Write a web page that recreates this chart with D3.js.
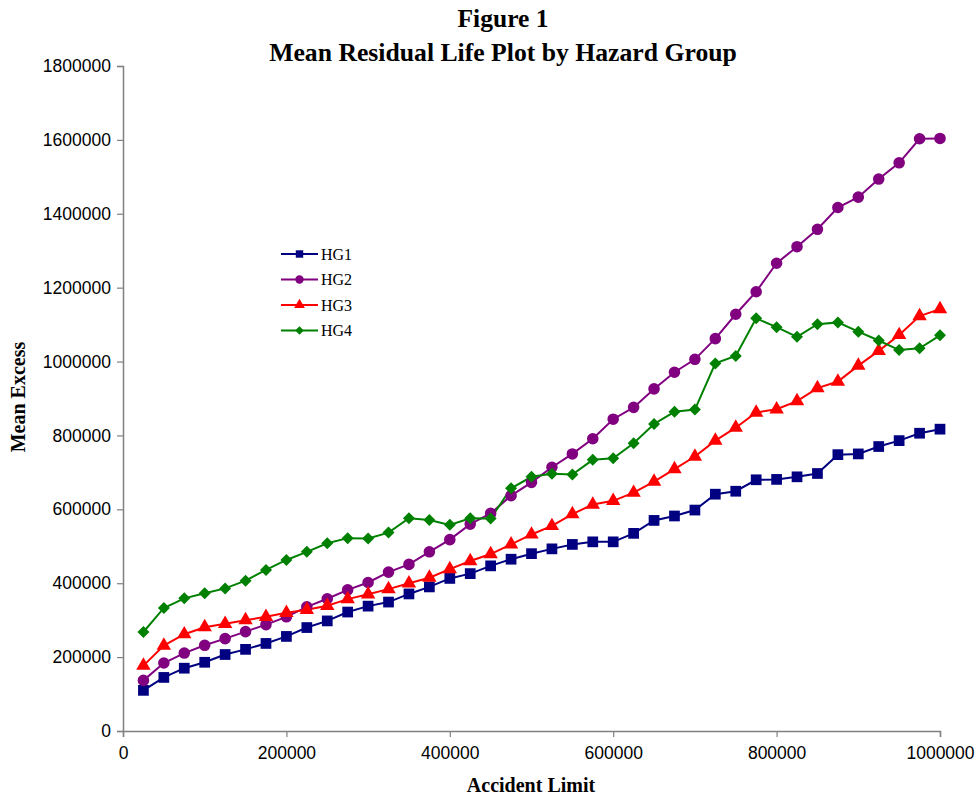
<!DOCTYPE html>
<html>
<head>
<meta charset="utf-8">
<script src="https://cdn.jsdelivr.net/npm/d3@7"></script>
<style>
  html, body { margin: 0; padding: 0; background: #fff; }
  svg { display: block; }
</style>
</head>
<body>
<svg id="chart" width="976" height="797"></svg>
<script>
// Accident limits (x values)
const limits = [25000, 50000, 75000, 100000, 125000, 150000, 175000, 200000, 225000, 250000,
  275000, 300000, 325000, 350000, 375000, 400000, 425000, 450000, 475000, 500000,
  525000, 550000, 575000, 600000, 625000, 650000, 675000, 700000, 725000, 750000,
  775000, 800000, 825000, 850000, 875000, 900000, 925000, 950000, 975000, 1000000];

// Mean excess by hazard group
const hg1 = [110000, 145000, 170000, 186000, 207000, 221000, 237000, 256000, 280000, 298000,
  322000, 338000, 349000, 371000, 390000, 413000, 426000, 447000, 465000, 480000,
  493000, 505000, 512000, 512000, 535000, 570000, 582000, 598000, 641000, 649000,
  680000, 681000, 688000, 697000, 748000, 750000, 770000, 786000, 806000, 817000];
const hg2 = [137000, 184000, 211000, 232000, 250000, 269000, 288000, 309000, 336000, 358000,
  382000, 402000, 430000, 451000, 485000, 518000, 560000, 589000, 637000, 673000,
  714000, 750000, 791000, 844000, 876000, 926000, 971000, 1006000, 1062000, 1128000,
  1189000, 1266000, 1311000, 1358000, 1417000, 1445000, 1494000, 1538000, 1603000, 1604000];
const hg3 = [177000, 231000, 262000, 281000, 290000, 300000, 309000, 320000, 328000, 339000,
  357000, 370000, 384000, 400000, 415000, 438000, 460000, 479000, 505000, 532000,
  555000, 587000, 613000, 623000, 645000, 675000, 709000, 743000, 786000, 821000,
  862000, 871000, 893000, 928000, 946000, 989000, 1029000, 1072000, 1123000, 1142000];
const hg4 = [268000, 333000, 359000, 373000, 386000, 407000, 436000, 463000, 485000, 508000,
  522000, 521000, 537000, 576000, 571000, 558000, 576000, 575000, 657000, 688000,
  696000, 694000, 734000, 738000, 779000, 831000, 864000, 870000, 995000, 1015000,
  1117000, 1093000, 1067000, 1101000, 1106000, 1081000, 1057000, 1031000, 1036000, 1071000];

const seriesNames = ["HG1", "HG2", "HG3", "HG4"];
const seriesValues = [hg1, hg2, hg3, hg4];

// Axis ticks
const xTicks = [0, 200000, 400000, 600000, 800000, 1000000];
const yTicks = [0, 200000, 400000, 600000, 800000, 1000000, 1200000, 1400000, 1600000, 1800000];

// Styling per series: square, circle, triangle, and a square turned 45° for the diamond
const colors = ["#000080", "#800080", "#ff0000", "#008000"];
const symbols = [d3.symbolSquare, d3.symbolCircle, d3.symbolTriangle, d3.symbolSquare];
const rotations = [0, 0, 0, 45];
const symbolSizes = [115, 105, 90, 72];
const legendSizes = [55, 55, 50, 36];

const svg = d3.select("#chart");
const plot = { left: 123, right: 940, top: 66, bottom: 731 };

const x = d3.scaleLinear().domain([0, 1000000]).range([plot.left, plot.right]);
const y = d3.scaleLinear().domain([0, 1800000]).range([plot.bottom, plot.top]);

const axisColor = "#808080";
const tickFont = "'Liberation Sans', Arial, sans-serif";
const serif = "'Liberation Serif', 'Times New Roman', serif";

// Y axis
const yAxis = svg.append("g")
  .attr("transform", `translate(${plot.left},0)`)
  .call(d3.axisLeft(y).tickValues(yTicks).tickFormat(d3.format("d")).tickSize(6).tickPadding(6));
// X axis
const xAxis = svg.append("g")
  .attr("transform", `translate(0,${plot.bottom})`)
  .call(d3.axisBottom(x).tickValues(xTicks).tickFormat(d3.format("d")).tickSize(6).tickPadding(10));

[yAxis, xAxis].forEach(g => {
  g.select(".domain").attr("stroke", axisColor).attr("stroke-width", 1.5);
  g.selectAll(".tick line").attr("stroke", axisColor).attr("stroke-width", 1.2);
  g.selectAll(".tick text")
    .attr("fill", "#000")
    .style("font-family", tickFont)
    .style("font-size", "17.5px");
});

// Lines and markers
const line = d3.line().x((d, i) => x(limits[i])).y(d => y(d));

seriesValues.forEach((vals, s) => {
  svg.append("path")
    .datum(vals)
    .attr("fill", "none")
    .attr("stroke", colors[s])
    .attr("stroke-width", 2)
    .attr("d", line);
});

seriesValues.forEach((vals, s) => {
  const sym = d3.symbol().type(symbols[s]).size(symbolSizes[s]);
  svg.append("g").selectAll("path")
    .data(vals)
    .join("path")
    .attr("transform", (d, i) => `translate(${x(limits[i])},${y(d)}) rotate(${rotations[s]})`)
    .attr("d", sym)
    .attr("fill", colors[s]);
});

// Legend
const legend = svg.append("g");
seriesNames.forEach((name, s) => {
  const ly = 254 + s * 25.5;
  legend.append("line")
    .attr("x1", 281).attr("x2", 318).attr("y1", ly).attr("y2", ly)
    .attr("stroke", colors[s]).attr("stroke-width", 2);
  legend.append("path")
    .attr("transform", `translate(299.5,${ly}) rotate(${rotations[s]})`)
    .attr("d", d3.symbol().type(symbols[s]).size(legendSizes[s]))
    .attr("fill", colors[s]);
  legend.append("text")
    .attr("x", 321).attr("y", ly + 5.5)
    .style("font-family", serif)
    .style("font-size", "16px")
    .text(name);
});

// Titles
svg.append("text")
  .attr("x", 503).attr("y", 27)
  .attr("text-anchor", "middle")
  .style("font-family", serif).style("font-weight", "bold").style("font-size", "25.5px")
  .text("Figure 1");
svg.append("text")
  .attr("x", 503).attr("y", 61)
  .attr("text-anchor", "middle")
  .style("font-family", serif).style("font-weight", "bold").style("font-size", "25.7px")
  .text("Mean Residual Life Plot by Hazard Group");

svg.append("text")
  .attr("x", 531).attr("y", 792)
  .attr("text-anchor", "middle")
  .style("font-family", serif).style("font-weight", "bold").style("font-size", "20px")
  .text("Accident Limit");

svg.append("text")
  .attr("transform", "translate(25,397) rotate(-90)")
  .attr("text-anchor", "middle")
  .style("font-family", serif).style("font-weight", "bold").style("font-size", "20px")
  .text("Mean Excess");
</script>
</body>
</html>
